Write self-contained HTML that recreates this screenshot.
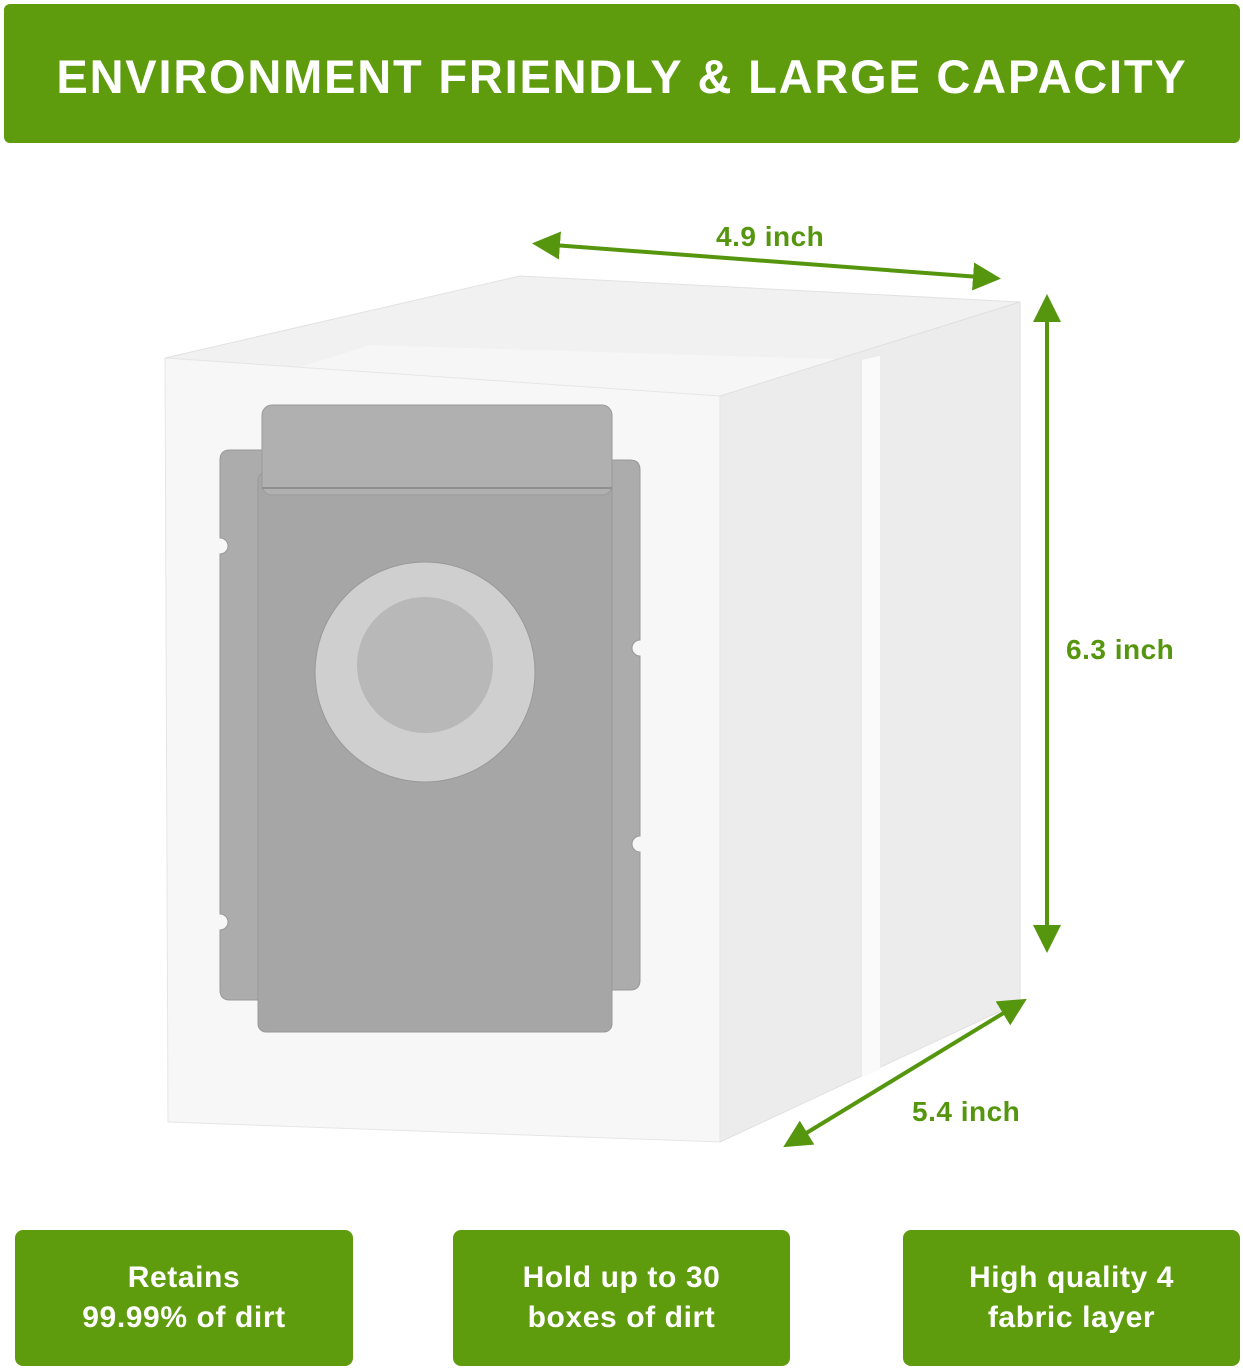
<!DOCTYPE html>
<html><head><meta charset="utf-8"><style>
body{margin:0;width:1243px;height:1369px;background:#fff;position:relative;overflow:hidden;font-family:"Liberation Sans",sans-serif;font-weight:bold}
.b{position:absolute;background:#5f9c0d;color:#fff;border-radius:8px;text-align:center}
.t{position:absolute;color:#55960e;font-size:28px;letter-spacing:0.5px}
.bb{font-size:30px;line-height:40px;padding-top:28px;box-sizing:border-box;letter-spacing:0.6px}
</style></head><body>
<div class="b" style="left:4px;top:4px;width:1236px;height:139px;border-radius:6px;font-size:47px;line-height:146px;letter-spacing:1.8px">ENVIRONMENT FRIENDLY &amp; LARGE CAPACITY</div>
<svg width="1243" height="1369" style="position:absolute;left:0;top:0">
<defs><marker id="a" markerWidth="7" markerHeight="7" refX="5" refY="3.5" orient="auto-start-reverse" markerUnits="strokeWidth"><path d="M0,0 L7,3.5 L0,7 z" fill="#55960e"/></marker></defs>
<polygon points="165,358 520,276 1020,302 720,396" fill="#f1f1f1" stroke="#e2e2e2"/>
<polygon points="370,345 860,360 720,396 260,380" fill="#f6f6f6"/>
<polygon points="720,396 1020,302 1020,1002 720,1142" fill="#ececec" stroke="#e0e0e0"/>
<polygon points="862,360 880,356 880,1070 862,1077" fill="#fafafa"/>
<polygon points="165,358 720,396 720,1142 168,1122" fill="#f7f7f7" stroke="#e6e6e6"/>
<path d="M230,450 h32 v550 h-32 q-10,0 -10,-10 v-60 a8,8 0 0 0 0,-16 v-360 a8,8 0 0 0 0,-16 v-78 q0,-10 10,-10 z" fill="#acacac" stroke="#999"/>
<path d="M582,460 h48 q10,0 10,10 v170 a8,8 0 0 0 0,16 v180 a8,8 0 0 0 0,16 v128 q0,10 -10,10 h-48 z" fill="#acacac" stroke="#999"/>
<rect x="258" y="472" width="354" height="560" rx="8" fill="#a6a6a6" stroke="#999"/>
<rect x="262" y="405" width="350" height="90" rx="10" fill="#b0b0b0" stroke="#9a9a9a"/>
<line x1="262" y1="488" x2="612" y2="488" stroke="#8f8f8f" stroke-width="2"/>
<circle cx="425" cy="672" r="110" fill="#cfcfcf" stroke="#999"/>
<circle cx="425" cy="665" r="68" fill="#b8b8b8"/>
<g stroke="#55960e" stroke-width="4" fill="none">
<line x1="540" y1="244" x2="993" y2="278" marker-start="url(#a)" marker-end="url(#a)"/>
<line x1="1047" y1="302" x2="1047" y2="945" marker-start="url(#a)" marker-end="url(#a)"/>
<line x1="1020" y1="1003" x2="790" y2="1143" marker-start="url(#a)" marker-end="url(#a)"/>
</g>
</svg>
<div class="t" style="left:716px;top:221px">4.9 inch</div>
<div class="t" style="left:1066px;top:634px">6.3 inch</div>
<div class="t" style="left:912px;top:1096px">5.4 inch</div>
<div class="b bb" style="left:15px;top:1230px;width:338px;height:136px">Retains<br>99.99% of dirt</div>
<div class="b bb" style="left:453px;top:1230px;width:337px;height:136px">Hold up to 30<br>boxes of dirt</div>
<div class="b bb" style="left:903px;top:1230px;width:337px;height:136px">High quality 4<br>fabric layer</div>
</body></html>
